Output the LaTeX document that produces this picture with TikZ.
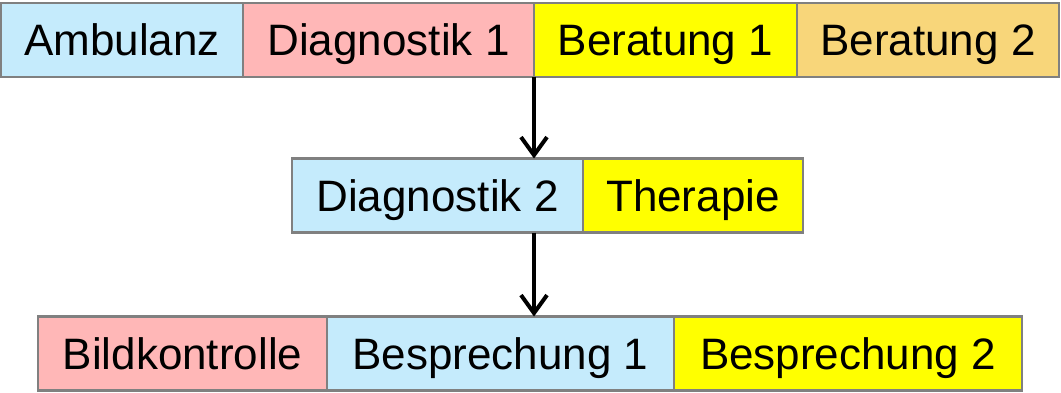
\documentclass[tikz,border=0pt]{standalone}
\usepackage{fontspec}
\setmainfont{Liberation Sans}
\usetikzlibrary{arrows.meta,positioning}
\definecolor{hellblau}{RGB}{197,235,252}
\definecolor{rosa}{RGB}{255,183,183}
\definecolor{gelb}{RGB}{255,255,0}
\definecolor{ocker}{RGB}{248,214,122}
\definecolor{rand}{RGB}{128,128,128}

\begin{document}
\begin{tikzpicture} [x=1pt,y=-1pt,line width=2.5pt,
  feld/.style={draw=rand,minimum height=74pt,inner sep=0pt,outer sep=0pt,
    text height=32pt,text depth=0pt,font=\fontsize{44}{50}\selectfont},
  pfeil/.style={-{Straight Barb[length=18pt,width=26pt]},line width=4pt}]

  \useasboundingbox (0,0) rectangle (1061,393);

  \node[feld,fill=hellblau,minimum width=242pt] (amb) at (122,40) {Ambulanz};
  \node[feld,fill=rosa,minimum width=291pt] (dia1) [right=0pt of amb] {Diagnostik 1};
  \node[feld,fill=gelb,minimum width=263pt] (ber1) [right=0pt of dia1] {Beratung 1};
  \node[feld,fill=ocker,minimum width=262pt] (ber2) [right=0pt of ber1] {Beratung 2};

  \node[feld,fill=hellblau,minimum width=291pt] (dia2) at (437.5,195.5) {Diagnostik 2};
  \node[feld,fill=gelb,minimum width=220pt] (ther) [right=0pt of dia2] {Therapie};

  \node[feld,fill=rosa,minimum width=289pt] (bild) at (182.5,353.5) {Bildkontrolle};
  \node[feld,fill=hellblau,minimum width=347pt] (bes1) [right=0pt of bild] {Besprechung 1};
  \node[feld,fill=gelb,minimum width=348pt] (bes2) [right=0pt of bes1] {Besprechung 2};

  \draw[pfeil] (dia1.south east) -- (dia1.south east |- dia2.north);
  \draw[pfeil] (dia1.south east |- dia2.south) -- (dia1.south east |- bes1.north);

\end{tikzpicture}
\end{document}
